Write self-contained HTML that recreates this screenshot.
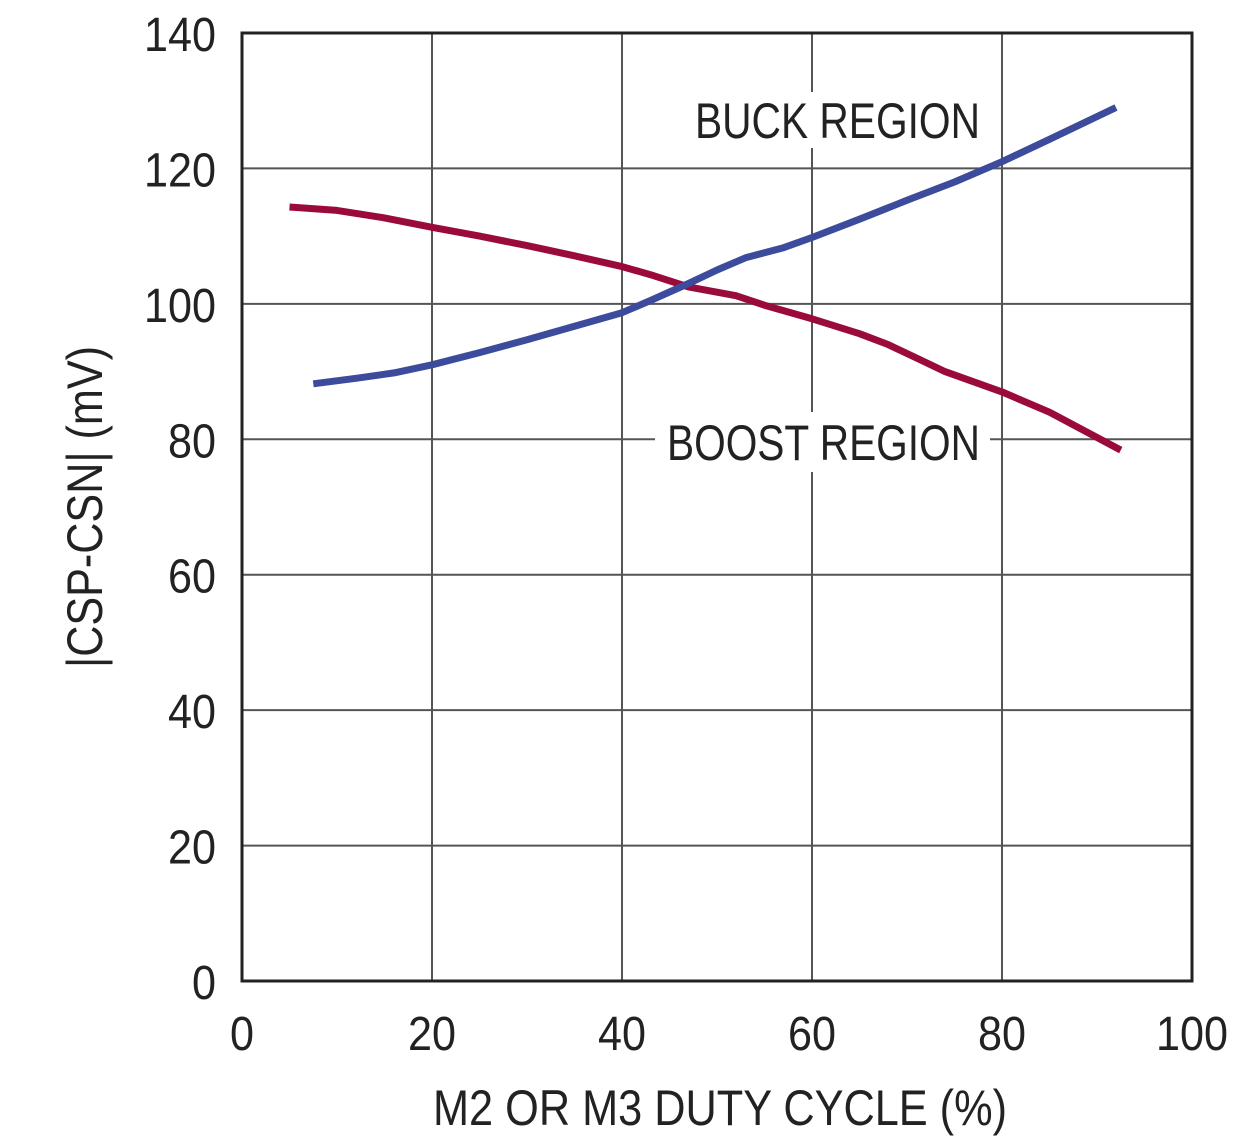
<!DOCTYPE html>
<html><head><meta charset="utf-8"><style>
html,body{margin:0;padding:0;background:#fff;}
svg{display:block;font-family:"Liberation Sans Narrow","Liberation Sans",sans-serif;}
</style></head><body>
<svg id="chart" width="1257" height="1145" viewBox="0 0 1257 1145" xmlns="http://www.w3.org/2000/svg">
<g id="grid"></g>
<g id="labels"></g>
<g id="series"></g>
<g id="axes"></g>
</svg>
<script>
const xTicks=[0,20,40,60,80,100];
const yTicks=[0,20,40,60,80,100,120,140];
const buckX=[7.5,12,16,20,25,30,35,40,43,47,50,53,57,60,65,70,75,80,85,92];
const buckY=[88.2,89,89.8,91,92.8,94.7,96.7,98.7,100.5,103,105,106.8,108.3,109.8,112.5,115.3,118,121,124.3,129];
const boostX=[5,10,15,20,25,30,35,40,43,47,52,55,60,65,68,71,74,80,85,92.5];
const boostY=[114.3,113.8,112.7,111.3,110,108.6,107.1,105.5,104.3,102.5,101.2,99.8,97.8,95.6,94,92,90,87,84,78.4];
const X0=242,X1=1192,Y0=981,Y1=33;
const sx=v=>X0+(v-0)/100*(X1-X0);
const sy=v=>Y0-(v/140)*(Y0-Y1);
const NS="http://www.w3.org/2000/svg";
function mk(tag,attrs,parent){const e=document.createElementNS(NS,tag);for(const k in attrs)e.setAttribute(k,attrs[k]);parent.appendChild(e);return e;}
const grid=document.getElementById('grid'),axes=document.getElementById('axes'),series=document.getElementById('series'),labels=document.getElementById('labels');
xTicks.forEach(t=>{if(t>0&&t<100){const l=mk('line',{x1:sx(t),x2:sx(t),y1:Y1,y2:Y0,stroke:'#555','stroke-width':2},grid);

}
const s=String(t);
const tx=mk('text',{x:sx(t),y:1050,'text-anchor':'middle','font-size':48,fill:'#222',textLength:s.length*24,lengthAdjust:'spacingAndGlyphs'},axes);tx.textContent=s;

});
yTicks.forEach(t=>{if(t>0&&t<140){const l=mk('line',{x1:X0,x2:X1,y1:sy(t),y2:sy(t),stroke:'#555','stroke-width':2},grid);

}
const s=String(t);
const tx=mk('text',{x:216,y:sy(t)+18,'text-anchor':'end','font-size':48,fill:'#222',textLength:s.length*24,lengthAdjust:'spacingAndGlyphs'},axes);tx.textContent=s;

});
const fr=mk('rect',{x:X0,y:Y1,width:X1-X0,height:Y0-Y1,fill:'none',stroke:'#222','stroke-width':3},axes);


[[690,92,296,56,'BUCK REGION',695,138,285,'buck-region-label'],[655,412,335,60,'BOOST REGION',667,460,313,'boost-region-label']].forEach(a=>{
const r=mk('rect',{x:a[0],y:a[1],width:a[2],height:a[3],fill:'#fff'},labels);


const t=mk('text',{x:a[5],y:a[6],'font-size':50,fill:'#222',textLength:a[7],lengthAdjust:'spacingAndGlyphs'},labels);t.textContent=a[4];

});
function path(xs,ys,col,name){const d=xs.map((x,i)=>(i?'L':'M')+sx(x).toFixed(1)+','+sy(ys[i]).toFixed(1)).join(' ');
const p=mk('path',{d:d,fill:'none',stroke:col,'stroke-width':7,'stroke-linejoin':'round'},series);

}
path(boostX,boostY,'#9b0a3c','boost-region-line');
path(buckX,buckY,'#3c4b9c','buck-region-line');
const xt=mk('text',{x:720,y:1125,'text-anchor':'middle','font-size':50,fill:'#222',textLength:574,lengthAdjust:'spacingAndGlyphs'},axes);xt.textContent='M2 OR M3 DUTY CYCLE (%)';


const yt=mk('text',{x:0,y:0,'text-anchor':'middle','font-size':50,fill:'#222',textLength:322,lengthAdjust:'spacingAndGlyphs',transform:'translate(102,507) rotate(-90)'},axes);yt.textContent='|CSP-CSN| (mV)';


</script>
</body></html>
